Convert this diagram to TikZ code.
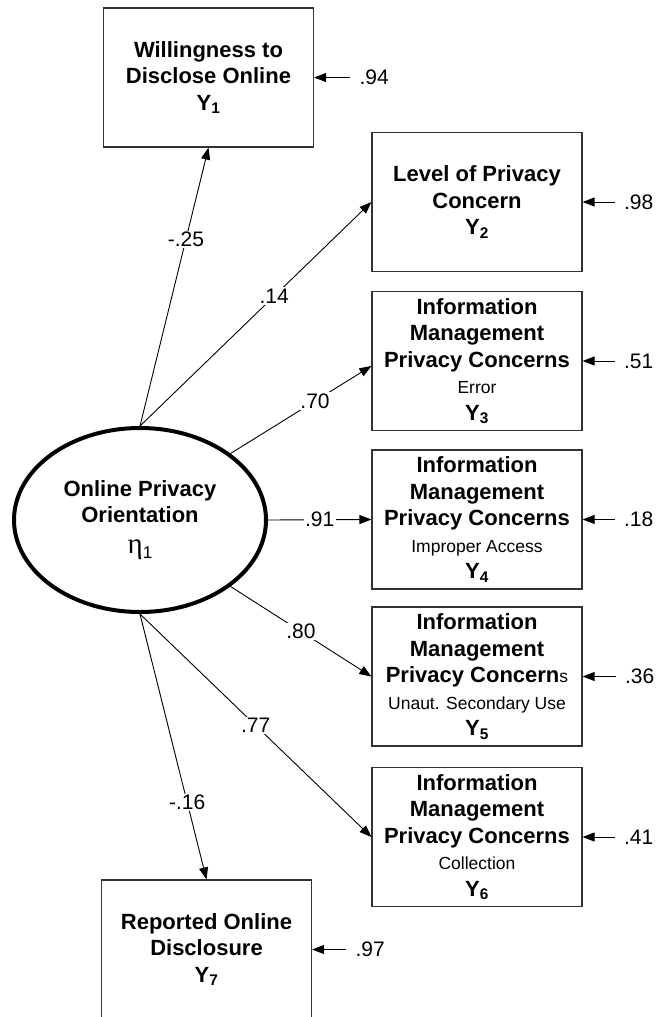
\documentclass[tikz,border=0pt]{standalone}
\usepackage{fontspec}
\setmainfont{Liberation Sans}
\newfontfamily\greekfont{Liberation Serif}
\usetikzlibrary{arrows.meta}
\usetikzlibrary{shapes.geometric}

\newcommand{\boxfont}{\fontsize{22}{26.5}\selectfont\bfseries}
\newcommand{\subfont}{\fontsize{17.5}{24}\selectfont\mdseries}
\newcommand{\coeffont}{\fontsize{21}{25}\selectfont}

\begin{document}
\begin{tikzpicture}[
    x=1pt, y=-1pt,
    >={Triangle[length=12pt,width=9pt]},
    line width=0.9pt,
    obs/.style={draw=black!80, line width=1.2pt, minimum width=210pt,
        minimum height=139pt, inner sep=0pt, align=center, font=\boxfont},
    lat/.style={ellipse, draw, line width=4pt, minimum width=252pt,
        minimum height=184pt, inner sep=0pt, align=center, font=\boxfont},
    coef/.style={fill=white, inner sep=1.5pt, font=\coeffont},
    err/.style={inner xsep=9pt, inner ysep=2pt, font=\coeffont}
]

\useasboundingbox (0,0) rectangle (658,1017);

\def\bx{477}

% Latent factor
\node[lat] (eta) at (140,520)
    {Online Privacy\\Orientation\\[4pt]
     {\mdseries{\greekfont\fontsize{29}{30}\selectfont η}%
      \raisebox{-5pt}{\fontsize{17}{17}\selectfont 1}}};

% Indicators
\node[obs] (y1) at (208.5,77.5) {Willingness to\\Disclose Online\\Y\textsubscript{1}};
\node[obs] (y2) at (\bx,202) {Level of Privacy\\Concern\\Y\textsubscript{2}};
\node[obs] (y3) at (\bx,361)
    {Information\\Management\\Privacy Concerns\\{\subfont Error}\\Y\textsubscript{3}};
\node[obs] (y4) at (\bx,519.5)
    {Information\\Management\\Privacy Concerns\\{\subfont Improper Access}\\Y\textsubscript{4}};
\node[obs] (y5) at (\bx,676.5)
    {Information\\Management\\Privacy Concern{\subfont s}\\{\subfont Unaut. Secondary Use}\\Y\textsubscript{5}};
\node[obs] (y6) at (\bx,837)
    {Information\\Management\\Privacy Concerns\\{\subfont Collection}\\Y\textsubscript{6}};
\node[obs] (y7) at (206.5,949.5) {Reported Online\\Disclosure\\Y\textsubscript{7}};

% Loadings
\draw[->] (eta.north) -- node[coef, pos=0.67] {-.25} (y1.south);
\draw[->] (eta.north) -- node[coef, pos=0.58] {.14} (y2.west);
\draw[->] (eta.north east) -- node[coef, pos=0.6] {.70} ([yshift=-5pt]y3.west);
\draw[->] (eta.east) -- node[coef, pos=0.5] {.91} (y4.west);
\draw[->] (eta.south east) -- node[coef, pos=0.5] {.80} (y5.west);
\draw[->] (eta.south) -- node[coef, pos=0.5] {.77} (y6.west);
\draw[->] (eta.south) -- node[coef, pos=0.71] {-.16} (y7.north);

% Error terms
\node[err] (e1) at ([xshift=60pt]y1.east) {.94};
\node[err] (e2) at ([xshift=56pt]y2.east) {.98};
\node[err] (e3) at ([xshift=56pt]y3.east) {.51};
\node[err] (e4) at ([xshift=56pt]y4.east) {.18};
\node[err] (e5) at ([xshift=57pt]y5.east) {.36};
\node[err] (e6) at ([xshift=56pt]y6.east) {.41};
\node[err] (e7) at ([xshift=58pt]y7.east) {.97};

\draw[->] (e1) -- (y1);
\draw[->] (e2) -- (y2);
\draw[->] (e3) -- (y3);
\draw[->] (e4) -- (y4);
\draw[->] (e5) -- (y5);
\draw[->] (e6) -- (y6);
\draw[->] (e7) -- (y7);

\end{tikzpicture}
\end{document}
